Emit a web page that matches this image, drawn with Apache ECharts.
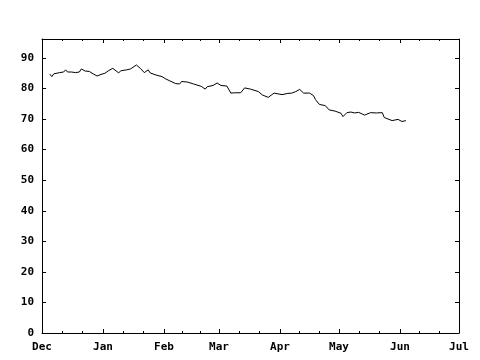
<!DOCTYPE html>
<html>
<head>
<meta charset="utf-8">
<script src="https://cdn.jsdelivr.net/npm/echarts@6/dist/echarts.min.js"></script>
<style>
html,body{margin:0;padding:0;background:#fff;}
#chart{width:480px;height:360px;}
</style>
</head>
<body>
<div id="chart"></div>
<script>
// ---- data ----
var dates = [
  '2004-12-05','2004-12-06','2004-12-07','2004-12-10','2004-12-12','2004-12-13','2004-12-14','2004-12-16',
  '2004-12-18','2004-12-20','2004-12-21','2004-12-23','2004-12-25','2004-12-27','2004-12-29','2004-12-31',
  '2005-01-02','2005-01-04','2005-01-06','2005-01-07','2005-01-09','2005-01-10','2005-01-13','2005-01-15',
  '2005-01-18','2005-01-20','2005-01-22','2005-01-24','2005-01-25','2005-01-28','2005-01-31',
  '2005-02-02','2005-02-04','2005-02-07','2005-02-09','2005-02-10','2005-02-13','2005-02-14','2005-02-16',
  '2005-02-17','2005-02-20','2005-02-22','2005-02-23','2005-02-26','2005-02-28',
  '2005-03-01','2005-03-02','2005-03-05','2005-03-06','2005-03-07','2005-03-09','2005-03-12','2005-03-14',
  '2005-03-17','2005-03-21','2005-03-23','2005-03-26','2005-03-27','2005-03-29','2005-03-30',
  '2005-04-02','2005-04-05','2005-04-07','2005-04-09','2005-04-11','2005-04-13','2005-04-16','2005-04-18',
  '2005-04-19','2005-04-20','2005-04-21','2005-04-24','2005-04-26','2005-04-29',
  '2005-05-02','2005-05-03','2005-05-05','2005-05-07','2005-05-09','2005-05-11','2005-05-12','2005-05-14',
  '2005-05-17','2005-05-20','2005-05-23','2005-05-24','2005-05-25','2005-05-28','2005-05-29','2005-05-31',
  '2005-06-02','2005-06-04'
];
var values = [
  84.7, 83.9, 84.8, 85.2, 85.4, 86.1, 85.4, 85.4,
  85.2, 85.4, 86.4, 85.7, 85.6, 84.8, 84.1, 84.6,
  85.0, 85.9, 86.6, 86.1, 85.1, 85.8, 86.1, 86.4,
  87.7, 86.6, 85.2, 86.1, 85.1, 84.4, 83.9,
  83.1, 82.5, 81.6, 81.5, 82.3, 82.1, 82.7, 81.5,
  81.0, 80.7, 79.8, 80.6, 81.0, 81.8,
  82.3, 81.0, 80.8, 80.5, 78.5, 78.6, 78.6, 80.2,
  79.8, 79.0, 77.9, 77.1, 77.2, 78.5, 78.2,
  78.0, 78.4, 78.5, 79.0, 79.7, 78.5, 78.5, 77.7,
  76.4, 75.9, 74.8, 74.4, 73.0, 72.6,
  71.9, 70.8, 72.1, 72.3, 72.0, 72.2, 71.7, 71.3,
  72.1, 72.0, 72.1, 70.5, 69.9, 69.5, 69.1, 69.9,
  69.2, 69.5
];
var monthNames = ['Jan','Feb','Mar','Apr','May','Jun','Jul','Aug','Sep','Oct','Nov','Dec'];
var xMin = '2004-12-01', xMax = '2005-07-01';
var yMin = 0, yMax = 96.2, yStep = 10;

var seriesData = dates.map(function (d, i) { return [d, values[i]]; });
var FONT = { fontFamily: 'DejaVu Sans Mono', fontWeight: 'bold', fontSize: 11, color: '#000' };
var DAY = 86400000;

function xAx(pos, showLabel) {
  return {
    type: 'time', position: pos, min: xMin, max: xMax,
    splitNumber: 7, minInterval: 28 * DAY, maxInterval: 31 * DAY,
    axisLine: { show: true, onZero: false, lineStyle: { color: '#000', width: 1 } },
    axisTick: { show: true, inside: true, length: 4, lineStyle: { color: '#000' } },
    minorTick: { show: true, splitNumber: 3, length: 2, lineStyle: { color: '#000' } },
    splitLine: { show: false }, minorSplitLine: { show: false },
    axisLabel: Object.assign({
      show: showLabel, margin: 9, hideOverlap: false, showMinLabel: true, showMaxLabel: true,
      formatter: function (v) { return monthNames[new Date(v).getMonth()]; }
    }, FONT)
  };
}
function yAx(pos, showLabel) {
  return {
    type: 'value', position: pos, min: yMin, max: yMax, interval: yStep,
    axisLine: { show: true, onZero: false, lineStyle: { color: '#000', width: 1 } },
    axisTick: { show: true, inside: true, length: 4, lineStyle: { color: '#000' } },
    splitLine: { show: false },
    axisLabel: Object.assign({
      show: showLabel, margin: 8, showMaxLabel: false,
      formatter: function (v) { return (Math.abs(v % 10) < 1e-6) ? String(v) : ''; }
    }, FONT)
  };
}

var chart = echarts.init(document.getElementById('chart'), null, { renderer: 'canvas' });
chart.setOption({
  animation: false,
  backgroundColor: '#fff',
  grid: { left: 42, right: 21, top: 39, bottom: 27, containLabel: false },
  xAxis: [xAx('bottom', true), xAx('top', false)],
  yAxis: [yAx('left', true), yAx('right', false)],
  series: [{
    type: 'line', xAxisIndex: 0, yAxisIndex: 0, data: seriesData,
    showSymbol: false, symbol: 'none', smooth: false,
    lineStyle: { color: '#000', width: 1 }
  }]
});
</script>
</body>
</html>
